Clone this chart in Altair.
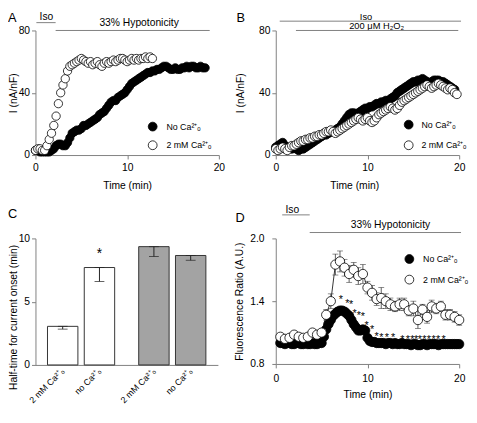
import altair as alt
import pandas as pd

FONT = "Liberation Sans"
GRAY = "#808080"
NO = "No Ca²⁺ₒ"
TWO = "2 mM Ca²⁺ₒ"

# ---------------- Panel A (33% hypotonicity) ----------------
a_t_no = [0, 0.25, 0.5, 0.75, 1, 1.25, 1.5, 1.75, 2, 2.25, 2.5, 2.75, 3, 3.25, 3.5, 3.75,
          4, 4.25, 4.5, 4.75, 5, 5.25, 5.5, 5.75, 6, 6.25, 6.5, 6.75, 7, 7.25, 7.5, 7.75,
          8, 8.25, 8.5, 8.75, 9, 9.25, 9.5, 9.75, 10, 10.25, 10.5, 10.75, 11, 11.25, 11.5, 11.75,
          12, 12.25, 12.5, 12.75, 13, 13.25, 13.5, 13.75, 14, 14.25, 14.5, 14.75, 15, 15.25,
          15.5, 15.75, 16, 16.25, 16.5, 16.75, 17, 17.25, 17.5, 17.75, 18, 18.25, 18.5]
a_i_no = [3, 3, 2, 2, 2, 2, 2, 3, 4, 6, 7, 7, 6, 6, 8, 11, 14, 15, 16, 16, 17, 19, 19, 20, 21,
          22, 23, 24, 26, 27, 28, 30, 32, 34, 35, 35, 37, 38, 39, 40, 42, 44, 46, 47, 48, 49, 50,
          51, 52, 53, 53, 54, 54, 55, 55, 56, 57, 57, 56, 55, 55, 56, 55, 55, 56, 56, 57, 56, 57,
          57, 56, 56, 57, 56, 56]
a_t_two = [0, 0.25, 0.5, 0.75, 1, 1.25, 1.5, 1.75, 2, 2.25, 2.5, 2.75, 3, 3.25, 3.5, 3.75,
           4, 4.25, 4.5, 4.75, 5, 5.25, 5.5, 5.75, 6, 6.25, 6.5, 6.75, 7, 7.25, 7.5, 7.75,
           8, 8.25, 8.5, 8.75, 9, 9.25, 9.5, 9.75, 10, 10.25, 10.5, 10.75, 11, 11.25, 11.5, 11.75,
           12, 12.25, 12.5, 12.75]
a_i_two = [3, 4, 4, 3, 3, 6, 10, 14, 19, 25, 33, 40, 45, 49, 54, 57, 58, 59, 60, 61, 62, 61, 60,
           59, 60, 58, 59, 60, 58, 57, 59, 60, 59, 60, 61, 60, 61, 62, 62, 61, 60, 61, 62, 61, 62,
           61, 62, 62, 63, 62, 63, 62]

# ---------------- Panel B (200 uM H2O2) ----------------
b_t_no = [0, 0.25, 0.5, 0.75, 1, 1.25, 1.5, 1.75, 2, 2.25, 2.5, 2.75, 3, 3.25, 3.5, 3.75,
          4, 4.25, 4.5, 4.75, 5, 5.25, 5.5, 5.75, 6, 6.25, 6.5, 6.75, 7, 7.25, 7.5, 7.75,
          8, 8.25, 8.5, 8.75, 9, 9.25, 9.5, 9.75, 10, 10.25, 10.5, 10.75, 11, 11.25, 11.5, 11.75,
          12, 12.25, 12.5, 12.75, 13, 13.25, 13.5, 13.75, 14, 14.25, 14.5, 14.75, 15, 15.25,
          15.5, 15.75, 16, 16.25, 16.5, 16.75, 17, 17.25, 17.5, 17.75, 18, 18.25, 18.5, 18.75,
          19, 19.25, 19.5]
b_i_no = [5, 6, 7, 8, 6, 5, 4, 4, 5, 4, 3, 4, 4, 5, 6, 7, 8, 9, 10, 11, 12, 13, 13, 14, 15, 15,
          16, 17, 18, 20, 22, 24, 26, 27, 27, 26, 27, 28, 29, 30, 30, 31, 31, 32, 33, 33, 34, 34,
          35, 35, 36, 37, 38, 40, 41, 42, 43, 44, 45, 46, 47, 47, 48, 48, 49, 48, 47, 46, 47, 48,
          48, 48, 47, 47, 46, 45, 44, 43, 42]
b_t_two = [0, 0.25, 0.5, 0.75, 1, 1.25, 1.5, 1.75, 2, 2.25, 2.5, 2.75, 3, 3.25, 3.5, 3.75,
           4, 4.25, 4.5, 4.75, 5, 5.25, 5.5, 5.75, 6, 6.25, 6.5, 6.75, 7, 7.25, 7.5, 7.75,
           8, 8.25, 8.5, 8.75, 9, 9.25, 9.5, 9.75, 10, 10.25, 10.5, 10.75, 11, 11.25, 11.5, 11.75,
           12, 12.25, 12.5, 12.75, 13, 13.25, 13.5, 13.75, 14, 14.25, 14.5, 14.75, 15, 15.25,
           15.5, 15.75, 16, 16.25, 16.5, 16.75, 17, 17.25, 17.5, 17.75, 18, 18.25, 18.5, 18.75,
           19, 19.25, 19.5, 19.75]
b_i_two = [4, 3, 4, 5, 4, 3, 5, 6, 6, 7, 8, 9, 9, 10, 10, 11, 11, 12, 12, 13, 13, 14, 15, 15, 16,
           15, 14, 15, 16, 17, 18, 19, 20, 21, 22, 23, 24, 23, 22, 23, 24, 22, 21, 22, 24, 26, 27,
           28, 29, 30, 31, 30, 29, 30, 32, 34, 35, 36, 37, 38, 39, 40, 41, 42, 43, 44, 45, 44, 43,
           44, 45, 46, 45, 44, 43, 42, 43, 42, 40, 39]

# ---------------- Panel C (half-time bars) ----------------
c_group = ["hypo", "hypo", "h2o2", "h2o2"]
c_cond = ["2mM", "no", "2mM", "no"]
c_label = ["2 mM Ca²⁺ₒ", "no Ca²⁺ₒ", "2 mM Ca²⁺ₒ", "no Ca²⁺ₒ"]
c_mean = [3.05, 7.7, 9.35, 8.65]
c_sem = [0.22, 1.1, 0.78, 0.38]
c_star_group = ["hypo"]
c_star_cond = ["no"]
c_star_y = [9.4]

# ---------------- Panel D (fluorescence ratio) ----------------
d_t_no = [0.5, 0.75, 1, 1.25, 1.5, 1.75, 2, 2.25, 2.5, 2.75, 3, 3.25, 3.5, 3.75, 4, 4.25, 4.5,
          4.75, 5, 5.25, 5.5, 5.75, 6, 6.25, 6.5, 6.75, 7, 7.25, 7.5, 7.75, 8, 8.25, 8.5, 8.75,
          9, 9.25, 9.5, 9.75, 10, 10.25, 10.5, 10.75, 11, 11.25, 11.5, 11.75, 12, 12.25, 12.5,
          12.75, 13, 13.25, 13.5, 13.75, 14, 14.25, 14.5, 14.75, 15, 15.25, 15.5, 15.75, 16,
          16.25, 16.5, 16.75, 17, 17.25, 17.5, 17.75, 18, 18.25, 18.5, 18.75, 19, 19.25, 19.5,
          19.75, 20]
d_r_no = [1.00, 1.00, 0.99, 1.00, 1.00, 0.99, 0.99, 1.00, 1.00, 0.99,
          0.99, 1.00, 0.99, 0.99, 1.00, 0.99, 0.99, 1.00, 1.00, 1.06,
          1.13, 1.18, 1.22, 1.26, 1.28, 1.30, 1.31, 1.31, 1.30, 1.28,
          1.26, 1.22, 1.18, 1.15, 1.12, 1.12, 1.13, 1.12, 1.05, 1.02,
          1.01, 1.01, 1.00, 1.00, 1.00, 1.00, 0.99, 1.00, 1.00, 0.99,
          1.00, 0.99, 0.99, 1.00, 0.99, 0.99, 0.99, 0.98, 0.99, 0.99,
          0.98, 0.98, 0.99, 0.99, 0.98, 0.99, 0.99, 0.99, 0.99, 0.98,
          0.99, 0.99, 0.99, 0.99, 0.99, 0.99, 0.99, 0.99, 0.99]
d_t_two = [0.5, 1, 1.5, 2, 2.5, 3, 3.5, 4, 4.5, 5, 5.5, 6, 6.5, 7, 7.5, 8, 8.5, 9, 9.5, 10,
           10.5, 11, 11.5, 12, 12.5, 13, 13.5, 14, 14.5, 15, 15.5, 16, 16.5, 17, 17.5, 18, 18.5,
           19, 19.5, 20]
d_r_two = [1.06, 1.04, 1.05, 1.08, 1.06, 1.05, 1.06, 1.10, 1.08, 1.10,
           1.27, 1.40, 1.75, 1.78, 1.72, 1.66, 1.70, 1.64, 1.66, 1.53,
           1.48, 1.42, 1.43, 1.40, 1.37, 1.35, 1.37, 1.37, 1.31, 1.33,
           1.22, 1.32, 1.25, 1.35, 1.33, 1.35, 1.27, 1.27, 1.25, 1.22]
d_e_two = [0.02, 0.02, 0.02, 0.02, 0.02, 0.02, 0.02, 0.03, 0.03, 0.03,
           0.05, 0.07, 0.10, 0.10, 0.08, 0.08, 0.07, 0.08, 0.09, 0.06,
           0.07, 0.06, 0.10, 0.07, 0.06, 0.05, 0.06, 0.06, 0.05, 0.07,
           0.08, 0.05, 0.06, 0.06, 0.05, 0.05, 0.05, 0.05, 0.05, 0.05]
d_star_t = [7.1, 7.8, 8.2, 8.6, 9.05, 9.5, 9.9, 10.5, 11.0, 11.5, 12.1, 12.8, 13.8, 14.4,
            14.9, 15.3, 15.7, 16.2, 16.7, 17.2, 17.7, 18.3]
d_star_r = [1.47, 1.43, 1.42, 1.33, 1.31, 1.30, 1.22, 1.18, 1.11, 1.10, 1.10, 1.10, 1.08,
            1.08, 1.08, 1.08, 1.08, 1.08, 1.08, 1.08, 1.08, 1.08]


def series_df(t, v, name):
    return pd.DataFrame({"t": t, "v": v, "series": [name] * len(t)})


fill_scale = alt.Scale(domain=[NO, TWO], range=["black", "white"])


def legend(x, y, rowpad, offset):
    return alt.Legend(title=None, orient="none", legendX=x, legendY=y, symbolType="circle",
                      symbolSize=81, symbolStrokeColor="black", symbolStrokeWidth=0.8,
                      labelFont=FONT, labelFontSize=9, labelOffset=offset, rowPadding=rowpad,
                      padding=0)


def text_layer(txt, x, y, size=10.5, baseline="alphabetic", align="center"):
    return alt.Chart(pd.DataFrame({"s": [txt]})).mark_text(
        font=FONT, fontSize=size, baseline=baseline, align=align, color="black"
    ).encode(x=x, y=y, text="s:N")


def span(x1, x2, y):
    return alt.Chart(pd.DataFrame({"k": [0]})).mark_rule(color=GRAY, strokeWidth=1).encode(
        x=alt.datum(x1), x2=alt.datum(x2), y=alt.value(y))


def time_axis(**kw):
    return alt.X("t:Q", scale=alt.Scale(domain=[0, 20], nice=False),
                 axis=alt.Axis(values=[0, 10, 20], title="Time (min)", **kw))


# ---------- A ----------
dfA = pd.concat([series_df(a_t_no, a_i_no, NO), series_df(a_t_two, a_i_two, TWO)], ignore_index=True)
ptsA = alt.Chart(dfA).mark_circle(size=72, opacity=1, stroke="black", strokeWidth=0.8).encode(
    x=time_axis(labelPadding=4, titlePadding=8),
    y=alt.Y("v:Q", scale=alt.Scale(domain=[0, 80], nice=False),
            axis=alt.Axis(values=[0, 40, 80], title="I (nA/nF)", titleX=-17, labelPadding=2)),
    fill=alt.Fill("series:N", scale=fill_scale, legend=legend(114.5, 93, 5, 9)),
)
A = alt.layer(
    ptsA,
    span(0.1, 2.2, -8),
    text_layer("Iso", alt.datum(1.2), alt.value(-19), baseline="top"),
    span(2.2, 19.0, 0),
    text_layer("33% Hypotonicity", alt.datum(11.3), alt.value(-5)),
    text_layer("A", alt.value(-28), alt.value(-19), size=13, baseline="top", align="left"),
).properties(width=187, height=127)

# ---------- B ----------
dfB = pd.concat([series_df(b_t_no, b_i_no, NO), series_df(b_t_two, b_i_two, TWO)], ignore_index=True)
ptsB = alt.Chart(dfB).mark_circle(size=78, opacity=1, stroke="black", strokeWidth=0.8).encode(
    x=time_axis(labelPadding=4, titlePadding=8, titleX=80),
    y=alt.Y("v:Q", scale=alt.Scale(domain=[0, 80], nice=False),
            axis=alt.Axis(values=[0, 40, 80], title="I (nA/nF)", titleX=-31, labelPadding=2)),
    fill=alt.Fill("series:N", scale=fill_scale, legend=legend(130.5, 91, 7, 8)),
)
B = alt.layer(
    ptsB,
    text_layer("Iso", alt.datum(9.84), alt.value(-19), size=9.5, baseline="top"),
    span(0.43, 20.2, -9.5),
    text_layer("200 μM H₂O₂", alt.datum(11.0), alt.value(-2), size=9.5),
    span(2.2, 19.9, 0),
    text_layer("B", alt.value(-40), alt.value(-19), size=13, baseline="top", align="left"),
).properties(width=187, height=127)

# ---------- C ----------
dfC = pd.DataFrame({"group": c_group, "cond": c_cond, "label": c_label,
                    "mean": c_mean, "sem": c_sem})
dfC["lo"] = dfC["mean"] - dfC["sem"]
dfCs = pd.DataFrame({"group": c_star_group, "cond": c_star_cond, "y": c_star_y})

xC = alt.X("group:N", sort=["hypo", "h2o2"], scale=alt.Scale(paddingInner=0, paddingOuter=0),
           axis=alt.Axis(labels=False, ticks=False, title=None))
xoC = alt.XOffset("cond:N", sort=["2mM", "no"],
                  scale=alt.Scale(paddingInner=0.173, paddingOuter=0.327))


def yC(field):
    return alt.Y(field, scale=alt.Scale(domain=[0, 10], nice=False),
                 axis=alt.Axis(values=[0, 5, 10], title="Half-time for current onset (min)",
                               titleX=-17, titleY=80, labelPadding=2))


barsC = alt.Chart(dfC).mark_bar(stroke="#333333", strokeWidth=1).encode(
    x=xC, xOffset=xoC, y=yC("mean:Q"),
    fill=alt.Fill("group:N", scale=alt.Scale(domain=["hypo", "h2o2"], range=["white", "#a3a3a3"]),
                  legend=None))
errC = alt.Chart(dfC).mark_rule(color="#222222", strokeWidth=1).encode(
    x=xC, xOffset=xoC, y=yC("lo:Q"), y2="mean:Q")
capC1 = alt.Chart(dfC).mark_tick(color="#222222", thickness=1, size=10).encode(
    x=xC, xOffset=xoC, y=yC("lo:Q"))
capC2 = alt.Chart(dfC).mark_tick(color="#222222", thickness=1, size=10).encode(
    x=xC, xOffset=xoC, y=yC("mean:Q"))
labC = alt.Chart(dfC).mark_text(angle=315, align="right", baseline="middle", font=FONT,
                                fontSize=9, color="black").encode(
    x=xC, xOffset=xoC, y=alt.value(134), text="label:N")
starC = alt.Chart(dfCs).mark_text(text="*", font=FONT, fontSize=14, dy=8, color="black").encode(
    x=xC, xOffset=xoC, y=yC("y:Q"))
C = alt.layer(
    barsC, errC, capC1, capC2, labC, starC,
    text_layer("C", alt.value(-28), alt.value(-31), size=13, baseline="top", align="left"),
).properties(width=186, height=129)

# ---------- D ----------
dfDn = series_df(d_t_no, d_r_no, NO)
dfDt = series_df(d_t_two, d_r_two, TWO)
dfDt["e"] = d_e_two
dfDt["lo"] = dfDt["v"] - dfDt["e"]
dfDt["hi"] = dfDt["v"] + dfDt["e"]
dfD = pd.concat([dfDn, dfDt[["t", "v", "series"]]], ignore_index=True)
dfDs = pd.DataFrame({"t": d_star_t, "v": d_star_r})

xD = time_axis(labelPadding=6, titlePadding=6)


def yD(field):
    return alt.Y(field, scale=alt.Scale(domain=[0.8, 2.0], nice=False, zero=False),
                 axis=alt.Axis(values=[0.8, 1.4, 2.0], format=".1f", labelOverlap=False,
                               title="Fluorescence Ratio (A.U.)", titleX=-32, labelPadding=8))


lineD = alt.Chart(dfDt).mark_line(color="black", strokeWidth=0.8).encode(x=xD, y=yD("v:Q"))
errD = alt.Chart(dfDt).mark_rule(color="#333333", strokeWidth=0.8).encode(
    x=xD, y=yD("lo:Q"), y2="hi:Q")
capD1 = alt.Chart(dfDt).mark_tick(orient="horizontal", size=6, thickness=0.8, color="#333333").encode(
    x=xD, y=yD("lo:Q"))
capD2 = alt.Chart(dfDt).mark_tick(orient="horizontal", size=6, thickness=0.8, color="#333333").encode(
    x=xD, y=yD("hi:Q"))
ptsD = alt.Chart(dfD).mark_circle(size=90, opacity=1, stroke="black", strokeWidth=0.8).encode(
    x=xD, y=yD("v:Q"),
    fill=alt.Fill("series:N", scale=fill_scale, legend=legend(131.2, 16, 7, 9)))
starD = alt.Chart(dfDs).mark_text(text="*", font=FONT, fontSize=11, dy=6, color="black").encode(
    x=xD, y=yD("v:Q"))
D = alt.layer(
    lineD, errD, capD1, capD2, ptsD, starD,
    text_layer("Iso", alt.datum(1.8), alt.value(-26)),
    span(0.7, 3.7, -24),
    text_layer("33% Hypotonicity", alt.datum(12.5), alt.value(-10.5)),
    span(3.7, 20.2, -6),
    text_layer("D", alt.value(-41), alt.value(-27), size=13, baseline="top", align="left"),
).properties(width=187, height=128)

chart = alt.concat(
    A, B, C, D, columns=2, spacing={"row": 85, "column": 58}, bounds="flush"
).resolve_scale(
    x="independent", y="independent", fill="independent"
).resolve_legend(fill="independent").properties(padding=0).configure(
    font=FONT
).configure_view(stroke=None).configure_axis(
    domainColor=GRAY, tickColor=GRAY, tickSize=4, domainWidth=1, tickWidth=1,
    labelColor="black", titleColor="black", labelFont=FONT, titleFont=FONT,
    labelFontSize=10.5, titleFontSize=10.5, titleFontWeight="normal", grid=False,
    labelFlush=False
)

chart.save("out.html", embed_options={"renderer": "svg", "actions": False})
